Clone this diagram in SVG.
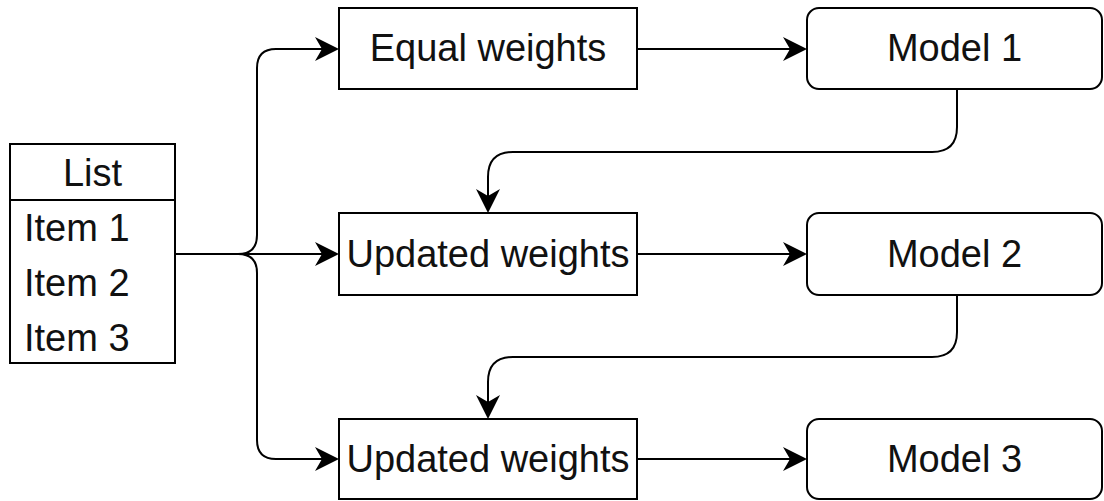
<svg xmlns="http://www.w3.org/2000/svg" width="1104" height="501" viewBox="0 0 1104 501">
<style>
.box{fill:#fff;stroke:#000;stroke-width:2}
.t{font-family:"Liberation Sans",Arial,sans-serif;font-size:38px;fill:#111}
.c{text-anchor:middle}
.e{fill:none;stroke:#000;stroke-width:2}
</style>
<defs>
<marker id="arr" markerUnits="userSpaceOnUse" viewBox="-22 -13 27 26" markerWidth="27" markerHeight="26" refX="0" refY="0" orient="auto">
<path d="M4,0 L-20,-12 L-13,0 L-20,12 Z" fill="#000"/>
</marker>
</defs>
<rect width="1104" height="501" fill="#fff"/>
<g id="connectors">
<path class="e" d="M175,254 L335,254" marker-end="url(#arr)"/>
<path class="e" d="M238,254 Q257,254 257,235 L257,68 Q257,49 276,49 L335,49" marker-end="url(#arr)"/>
<path class="e" d="M238,254 Q257,254 257,273 L257,440 Q257,459 276,459 L335,459" marker-end="url(#arr)"/>
<path class="e" d="M637,49 L803,49" marker-end="url(#arr)"/>
<path class="e" d="M637,254 L803,254" marker-end="url(#arr)"/>
<path class="e" d="M637,459 L803,459" marker-end="url(#arr)"/>
<path class="e" d="M957,89 L957,127 Q957,152 932,152 L513,152 Q488,152 488,177 L488,209" marker-end="url(#arr)"/>
<path class="e" d="M957,295 L957,332 Q957,357 932,357 L513,357 Q488,357 488,382 L488,415" marker-end="url(#arr)"/>
</g>
<g id="list">
<rect class="box" x="10" y="144" width="165" height="219"/>
<line x1="10" y1="200" x2="175" y2="200" stroke="#000" stroke-width="2"/>
<text class="t c" x="92.5" y="186">List</text>
<text class="t" x="24" y="241">Item 1</text>
<text class="t" x="24" y="296">Item 2</text>
<text class="t" x="24" y="351">Item 3</text>
</g>
<g id="equal-weights">
<rect class="box" x="339" y="8" width="298" height="81"/>
<text class="t c" x="488" y="61">Equal weights</text>
</g>
<g id="updated-weights-1">
<rect class="box" x="339" y="213" width="298" height="82"/>
<text class="t c" x="488" y="267">Updated weights</text>
</g>
<g id="updated-weights-2">
<rect class="box" x="339" y="419" width="298" height="80"/>
<text class="t c" x="488" y="472">Updated weights</text>
</g>
<g id="model-1">
<rect class="box" x="807" y="8" width="295" height="81" rx="12"/>
<text class="t c" x="954.5" y="61">Model 1</text>
</g>
<g id="model-2">
<rect class="box" x="807" y="213" width="295" height="82" rx="12"/>
<text class="t c" x="954.5" y="267">Model 2</text>
</g>
<g id="model-3">
<rect class="box" x="807" y="419" width="295" height="80" rx="12"/>
<text class="t c" x="954.5" y="472">Model 3</text>
</g>
</svg>
